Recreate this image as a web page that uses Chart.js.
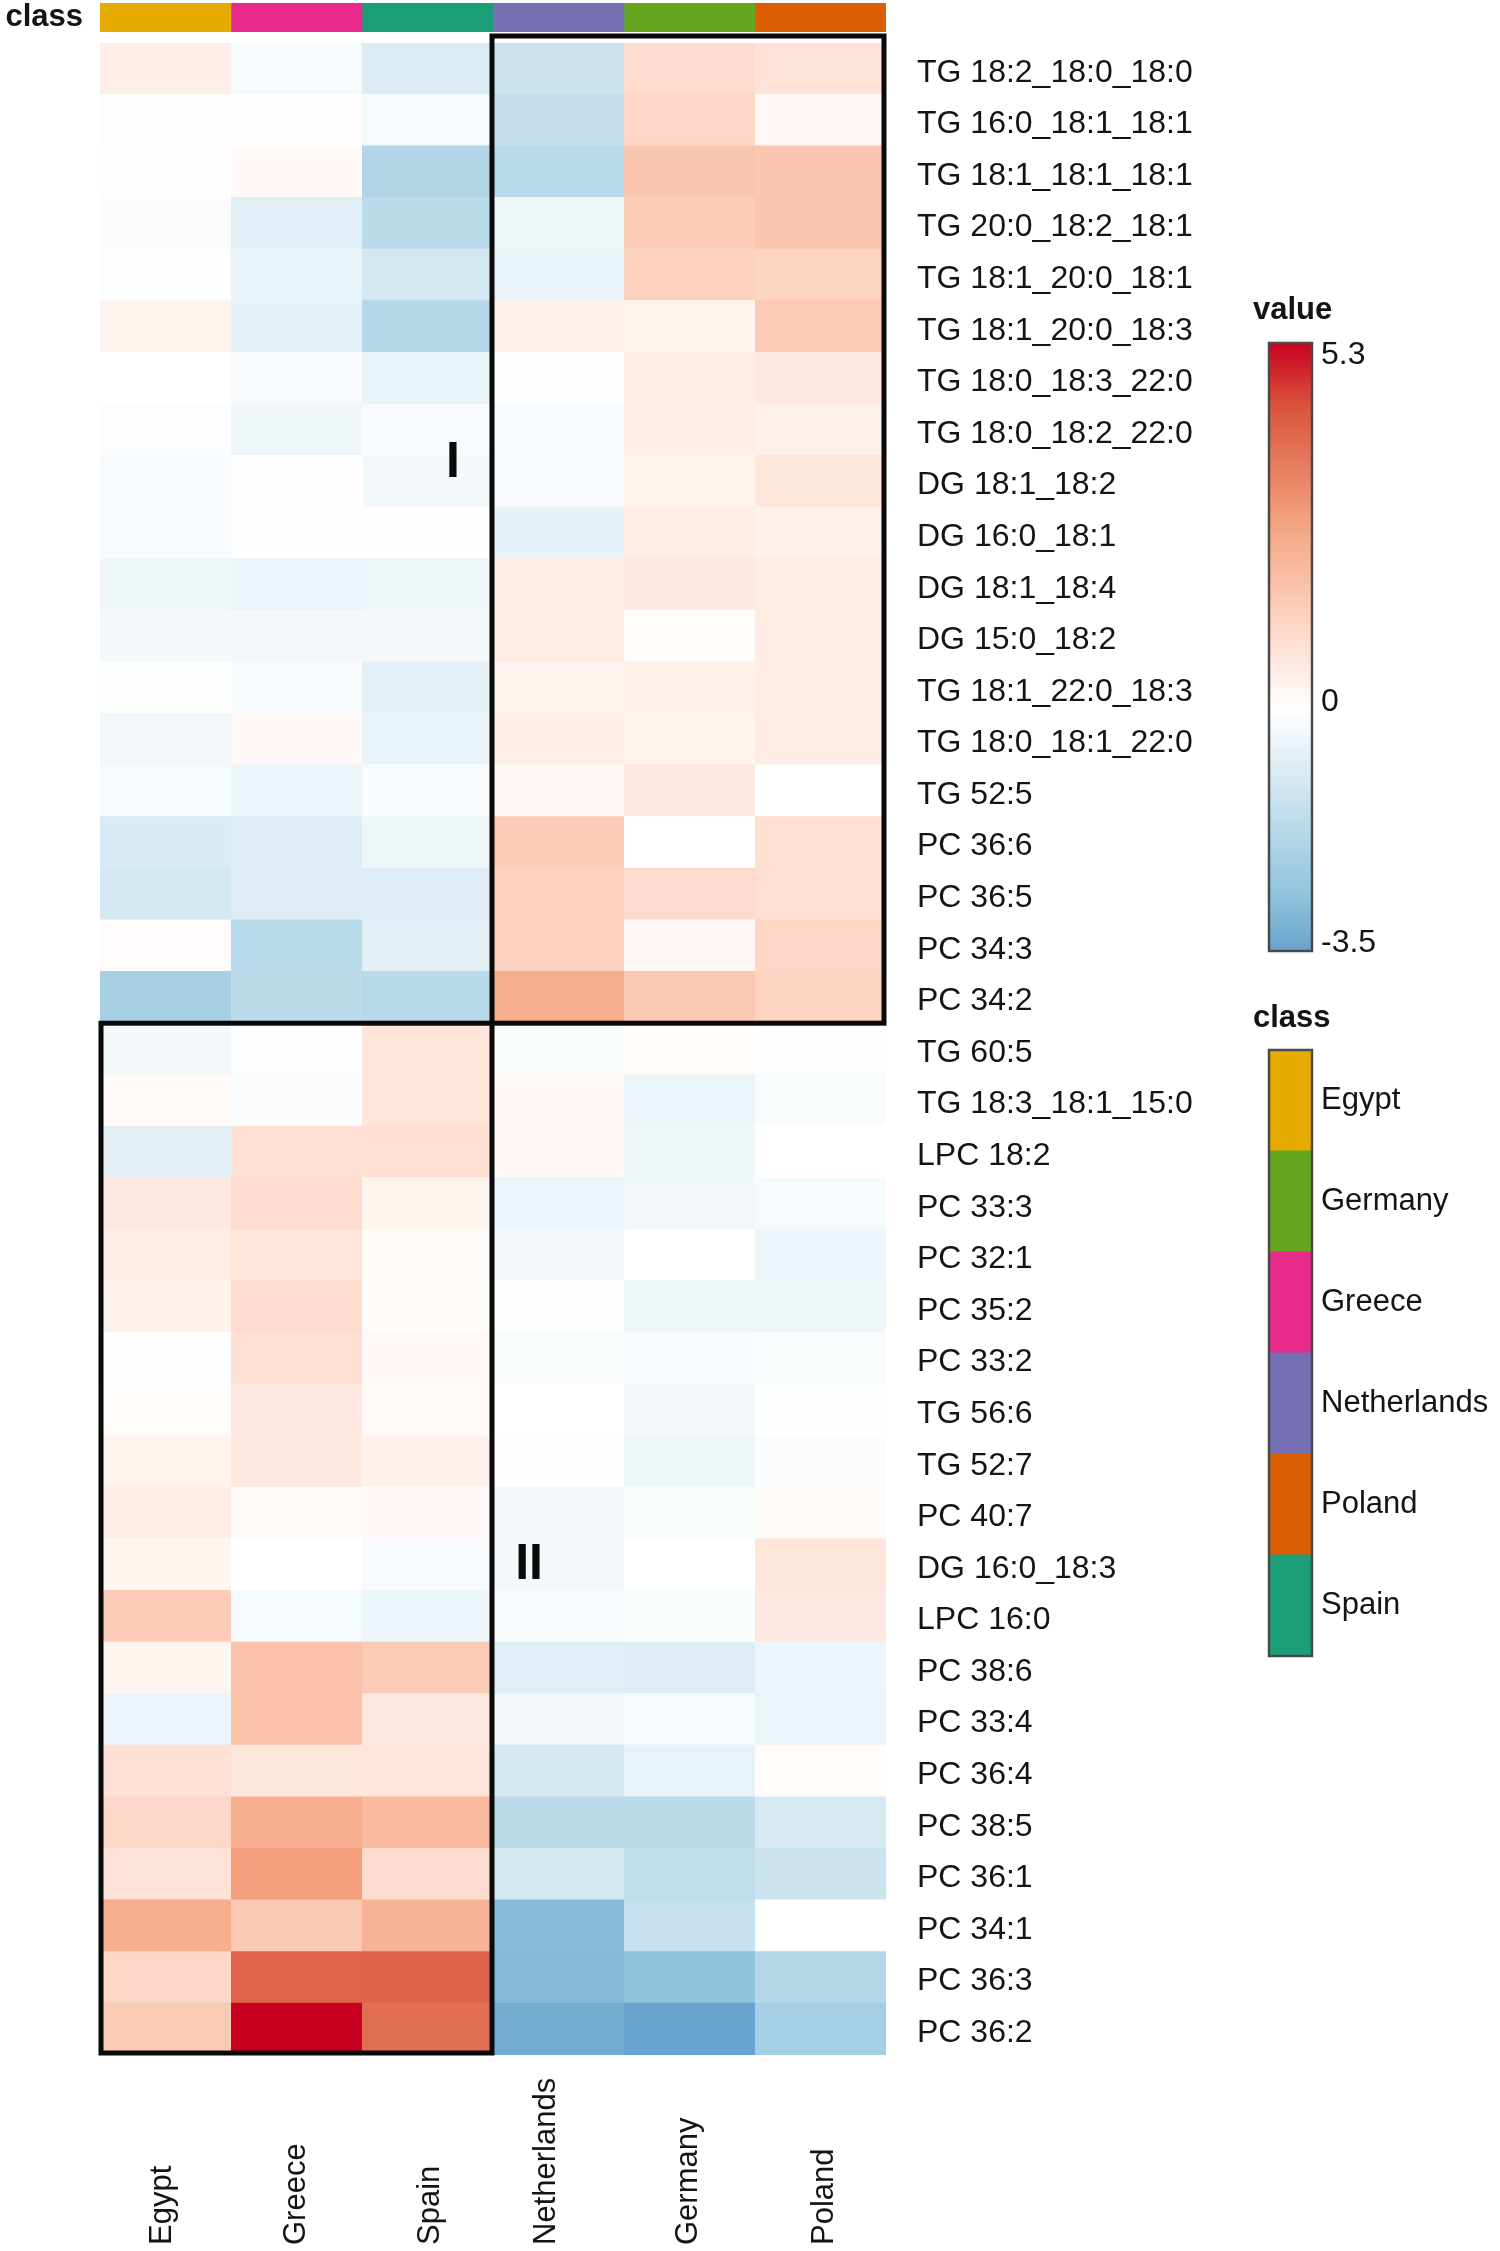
<!DOCTYPE html>
<html>
<head>
<meta charset="utf-8">
<title>Lipid heatmap</title>
<script src="https://cdn.jsdelivr.net/npm/chart.js@4"></script>
<style>
    html, body { margin: 0; padding: 0; background: #fff; }
    #page { position: relative; width: 1500px; height: 2251px; overflow: hidden; }
    canvas { position: absolute; }
</style>
</head>
<body>
<div id="page">
    <canvas id="heat" width="1500" height="2251" style="left:0;top:0"></canvas>
    <canvas id="annot" width="900" height="36" style="left:0;top:0"></canvas>
    <canvas id="scalebar" width="260" height="640" style="left:1240px;top:330px"></canvas>
    <canvas id="classes" width="240" height="630" style="left:1260px;top:1040px"></canvas>
</div>
<script>
// row labels, top to bottom
const rows = [
    "TG 18:2_18:0_18:0", "TG 16:0_18:1_18:1", "TG 18:1_18:1_18:1", "TG 20:0_18:2_18:1",
    "TG 18:1_20:0_18:1", "TG 18:1_20:0_18:3", "TG 18:0_18:3_22:0", "TG 18:0_18:2_22:0",
    "DG 18:1_18:2", "DG 16:0_18:1", "DG 18:1_18:4", "DG 15:0_18:2",
    "TG 18:1_22:0_18:3", "TG 18:0_18:1_22:0", "TG 52:5", "PC 36:6", "PC 36:5", "PC 34:3", "PC 34:2",
    "TG 60:5", "TG 18:3_18:1_15:0", "LPC 18:2", "PC 33:3", "PC 32:1", "PC 35:2", "PC 33:2",
    "TG 56:6", "TG 52:7", "PC 40:7", "DG 16:0_18:3", "LPC 16:0", "PC 38:6", "PC 33:4",
    "PC 36:4", "PC 38:5", "PC 36:1", "PC 34:1", "PC 36:3", "PC 36:2",
];

// columns in heatmap order
const columns = ["Egypt", "Greece", "Spain", "Netherlands", "Germany", "Poland"];

// values, same order as rows
const egypt = [
    0.5, -0.1, 0.05, -0.12, -0.08, 0.35, 0, -0.1, -0.2, -0.2, -0.4, -0.3, -0.05, -0.35, -0.25, -0.95, -1.05, 0.08, -2.15,
    -0.3, 0.15, -0.7, 0.65, 0.55, 0.45, -0.03, 0.1, 0.35, 0.55, 0.3, 1.5, 0.3, -0.5, 0.9, 1.15, 0.85, 2.4, 1.2, 1.55,
];
const greece = [
    -0.25, 0.03, 0.2, -0.75, -0.55, -0.6, -0.2, -0.4, -0.03, -0.03, -0.5, -0.3, -0.2, 0.2, -0.45, -0.8, -0.8, -1.7, -1.6,
    -0.1, -0.12, 0.9, 1.05, 0.8, 1.05, 0.9, 0.7, 0.65, 0.15, 0, -0.25, 1.8, 1.8, 0.75, 2.4, 2.8, 1.6, 4.0, 5.3,
];
const spain = [
    -0.87, -0.25, -1.9, -1.65, -1.05, -1.8, -0.55, -0.2, -0.3, 0.05, -0.4, -0.3, -0.65, -0.55, -0.2, -0.4, -0.8, -0.7, -1.75,
    0.8, 0.8, 0.95, 0.35, 0.12, 0.12, 0.2, 0.15, 0.4, 0.2, -0.2, -0.45, 1.55, 0.7, 0.8, 2.05, 1.05, 2.25, 4.05, 3.85,
];
const netherlands = [
    -1.3, -1.45, -1.7, -0.4, -0.55, 0.45, -0.08, -0.2, -0.2, -0.6, 0.55, 0.55, 0.35, 0.5, 0.25, 1.5, 1.35, 1.35, 2.4,
    -0.15, 0.2, 0.2, -0.5, -0.3, -0.05, -0.15, 0, -0.03, -0.35, -0.3, -0.2, -0.75, -0.3, -1.05, -1.6, -1.05, -2.9, -2.95, -3.3,
];
const germany = [
    1.05, 1.2, 1.7, 1.5, 1.35, 0.35, 0.55, 0.5, 0.35, 0.55, 0.65, 0.1, 0.4, 0.3, 0.65, 0, 1.05, 0.25, 1.6,
    0.1, -0.45, -0.4, -0.35, 0, -0.4, -0.2, -0.35, -0.4, -0.15, 0, -0.15, -0.8, -0.25, -0.55, -1.65, -1.5, -1.4, -2.7, -3.5,
];
const poland = [
    0.85, 0.2, 1.65, 1.7, 1.3, 1.55, 0.65, 0.45, 0.75, 0.4, 0.6, 0.6, 0.6, 0.55, 0, 0.95, 0.95, 1.2, 1.3,
    -0.08, -0.15, 0, -0.25, -0.45, -0.4, -0.15, -0.05, -0.12, 0.12, 0.75, 0.7, -0.45, -0.5, 0.1, -1.0, -1.3, 0, -1.85, -2.2,
];
const columnValues = [egypt, greece, spain, netherlands, germany, poland];

// legend for the class strip
const classNames = ["Egypt", "Germany", "Greece", "Netherlands", "Poland", "Spain"];
const classColors = {
    Egypt: "#e6ab02",
    Germany: "#66a61e",
    Greece: "#e7298a",
    Netherlands: "#7570b3",
    Poland: "#d95f02",
    Spain: "#1b9e77",
};

// colour bar
const valueMin = -3.5;
const valueMax = 5.3;
const scaleTicks = [5.3, 0, -3.5];

const FONT = "'Liberation Sans', Arial, sans-serif";
const INK = "#141414";

// colour ramp, stops picked from the reference colour bar
const ramp = [
    [-3.5, [106, 163, 205]],
    [-2.65, [146, 197, 222]],
    [0, [255, 255, 255]],
    [1.33, [253, 210, 192]],
    [2.65, [244, 165, 130]],
    [4.4, [217, 83, 60]],
    [5.3, [202, 0, 32]],
];
function colorFor(v) {
    for (let i = 1; i < ramp.length; i++) {
        if (v <= ramp[i][0]) {
            const [v0, c0] = ramp[i - 1];
            const [v1, c1] = ramp[i];
            const t = (v - v0) / (v1 - v0);
            const rgb = c0.map((c, k) => Math.round(c + (c1[k] - c) * t));
            return `rgb(${rgb.join(",")})`;
        }
    }
    return "rgb(202,0,32)";
}

// fixed axis width, and no extra room for the first and last label
const fitAxis = (width) => (s) => {
    s.width = width;
    s.paddingTop = 0;
    s.paddingBottom = 0;
};

// draws the black boxes, numerals, column labels and legend headings on the main chart
const heatOverlay = {
    id: "heatOverlay",
    afterDatasetsDraw(chart) {
        const { ctx, scales: { x, y } } = chart;
        const edge = (r) => y.getPixelForValue(r - 0.5);

        ctx.save();
        ctx.strokeStyle = "#0a0a0a";
        ctx.lineWidth = 5;
        ctx.lineJoin = "miter";
        // cluster I
        ctx.strokeRect(x.getPixelForValue(3) - 1, edge(0) - 7, x.getPixelForValue(6) - x.getPixelForValue(3) - 1, edge(19) - edge(0) + 7);
        // cluster II
        ctx.strokeRect(x.getPixelForValue(0) + 1, edge(19), x.getPixelForValue(3) - x.getPixelForValue(0) - 2, edge(39) - edge(19) - 2);

        ctx.fillStyle = "#0a0a0a";
        ctx.textBaseline = "middle";
        ctx.textAlign = "center";
        ctx.font = `bold 50px ${FONT}`;
        ctx.fillText("I", x.getPixelForValue(2.695), y.getPixelForValue(7.65));
        ctx.fillText("II", x.getPixelForValue(3.275), y.getPixelForValue(29));

        // headings
        ctx.fillStyle = INK;
        ctx.textAlign = "left";
        ctx.font = `bold 31px ${FONT}`;
        ctx.fillText("value", 1253, 310);
        ctx.fillText("class", 1253, 1018);

        // column labels, start-aligned at the bottom of the page
        const nudge = [-3, 0, 3, -12, -1, 4];
        ctx.font = `31px ${FONT}`;
        columns.forEach((name, c) => {
            ctx.save();
            ctx.translate(x.getPixelForValue(c + 0.5) + nudge[c], 2245);
            ctx.rotate(-Math.PI / 2);
            ctx.fillText(name, 0, 0);
            ctx.restore();
        });
        ctx.restore();
    },
};

// grey frame round a legend bar
const areaFrame = {
    id: "areaFrame",
    afterDatasetsDraw(chart) {
        const { ctx, chartArea: a } = chart;
        ctx.save();
        ctx.strokeStyle = "#4a4a4a";
        ctx.lineWidth = 2.5;
        ctx.strokeRect(a.left, a.top, a.right - a.left, a.bottom - a.top);
        ctx.restore();
    },
};

const base = { responsive: false, animation: false, devicePixelRatio: 1, events: [] };
const noPlugins = { legend: { display: false }, tooltip: { enabled: false }, title: { display: false } };

// main heatmap: one floating bar per cell, coloured by its value
new Chart(document.getElementById("heat"), {
    type: "bar",
    data: {
        labels: rows,
        datasets: columns.map((name, c) => ({
            label: name,
            data: rows.map(() => [c, c + 1]),
            backgroundColor: columnValues[c].map(colorFor),
            borderWidth: 0,
            grouped: false,
            categoryPercentage: 1,
            barPercentage: 1.025,
        })),
    },
    options: {
        ...base,
        indexAxis: "y",
        layout: { padding: { left: 100, top: 43, bottom: 196, right: 0 } },
        plugins: noPlugins,
        scales: {
            x: { type: "linear", min: 0, max: 6, display: false },
            y: {
                position: "right",
                afterFit: fitAxis(614),
                border: { display: false },
                grid: { display: false, drawTicks: false },
                ticks: {
                    autoSkip: false,
                    padding: 31,
                    crossAlign: "near",
                    labelOffset: 4,
                    color: INK,
                    font: { family: FONT, size: 32 },
                },
            },
        },
    },
    plugins: [heatOverlay],
});

// class strip on top
new Chart(document.getElementById("annot"), {
    type: "bar",
    data: {
        labels: ["class"],
        datasets: columns.map((name, c) => ({
            label: name,
            data: [[c, c + 1]],
            backgroundColor: classColors[name],
            borderWidth: 0,
            grouped: false,
            categoryPercentage: 1,
            barPercentage: 1,
        })),
    },
    options: {
        ...base,
        indexAxis: "y",
        layout: { padding: { left: 0, top: 3, bottom: 4, right: 14 } },
        plugins: noPlugins,
        scales: {
            x: { type: "linear", min: 0, max: 6, display: false },
            y: {
                position: "left",
                afterFit: fitAxis(100),
                border: { display: false },
                grid: { display: false, drawTicks: false },
                ticks: { padding: 17, color: INK, font: { family: FONT, size: 31, weight: "bold" } },
            },
        },
    },
});

// colour bar, one floating bar filled with the ramp
new Chart(document.getElementById("scalebar"), {
    type: "bar",
    data: {
        labels: ["value"],
        datasets: [{
            data: [[valueMin, valueMax]],
            borderWidth: 0,
            categoryPercentage: 1,
            barPercentage: 1,
            backgroundColor: (context) => {
                const { ctx, chartArea, scales } = context.chart;
                if (!chartArea) return "#fff";
                const g = ctx.createLinearGradient(0, scales.y.getPixelForValue(valueMax), 0, scales.y.getPixelForValue(valueMin));
                ramp.forEach(([v]) => {
                    g.addColorStop((valueMax - v) / (valueMax - valueMin), colorFor(v));
                });
                return g;
            },
        }],
    },
    options: {
        ...base,
        layout: { padding: { left: 29, top: 13, bottom: 19, right: 0 } },
        plugins: noPlugins,
        scales: {
            x: { display: false },
            y: {
                position: "right",
                min: valueMin,
                max: valueMax,
                afterFit: fitAxis(188),
                // labels sit just inside the ends of the bar
                afterBuildTicks: (s) => { s.ticks = scaleTicks.map((v, i) => ({ value: v + [-0.17, 0.1, 0.115][i] })); },
                border: { display: false },
                grid: { display: false, drawTicks: false },
                ticks: {
                    padding: 9,
                    crossAlign: "near",
                    color: INK,
                    font: { family: FONT, size: 32 },
                    callback: (v, i) => String(scaleTicks[i]),
                },
            },
        },
    },
    plugins: [areaFrame],
});

// class legend
new Chart(document.getElementById("classes"), {
    type: "bar",
    data: {
        labels: classNames,
        datasets: [{
            data: classNames.map(() => 1),
            backgroundColor: classNames.map((n) => classColors[n]),
            borderWidth: 0,
            categoryPercentage: 1,
            barPercentage: 1.01,
        }],
    },
    options: {
        ...base,
        indexAxis: "y",
        layout: { padding: { left: 9, top: 10, bottom: 14, right: 0 } },
        plugins: noPlugins,
        scales: {
            x: { type: "linear", min: 0, max: 1, display: false },
            y: {
                position: "right",
                afterFit: fitAxis(188),
                border: { display: false },
                grid: { display: false, drawTicks: false },
                ticks: {
                    padding: 9,
                    crossAlign: "near",
                    color: INK,
                    font: { family: FONT, size: 31 },
                },
            },
        },
    },
    plugins: [areaFrame],
});
</script>
</body>
</html>
